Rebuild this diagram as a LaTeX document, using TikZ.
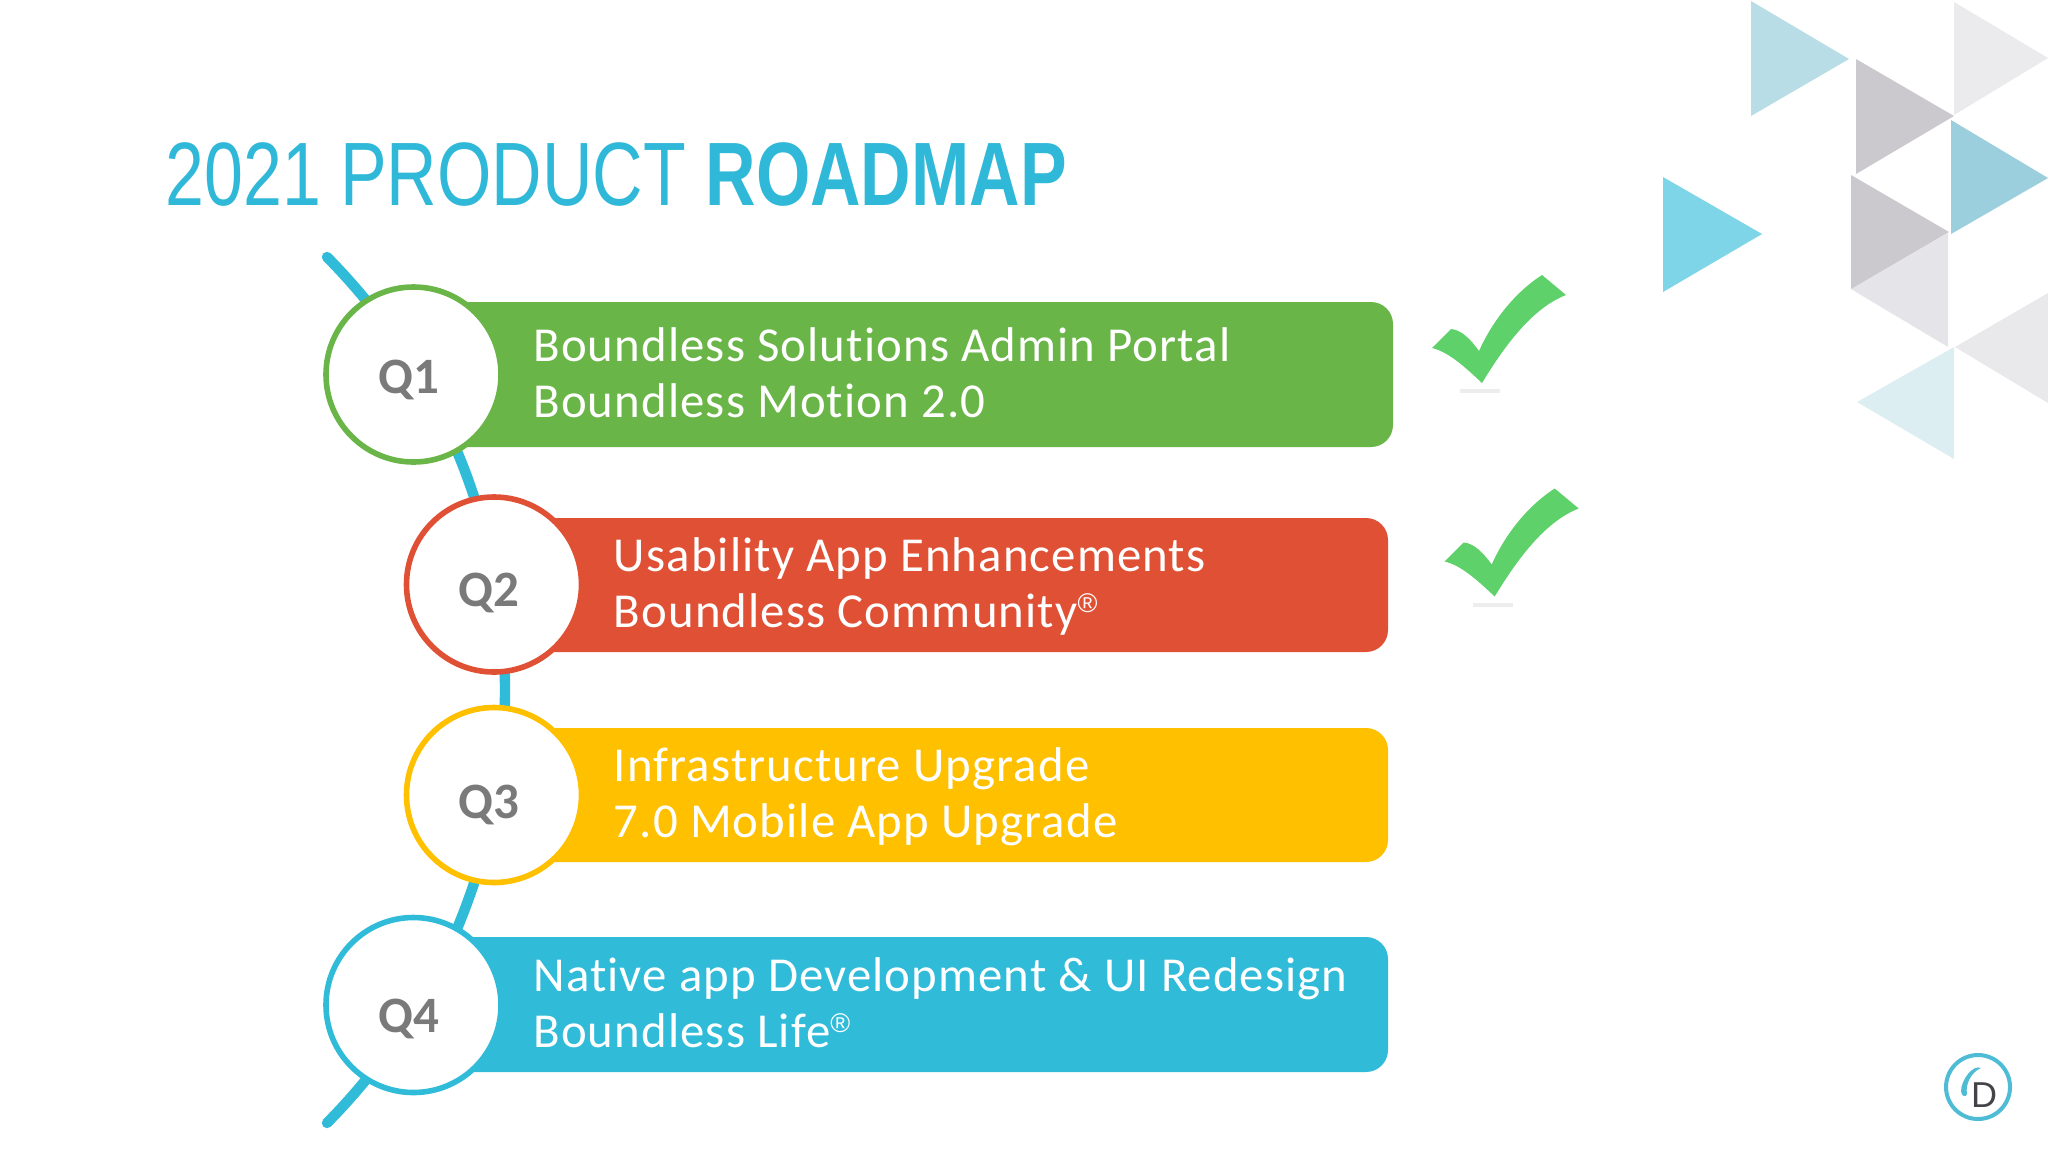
\documentclass[tikz,border=0pt]{standalone}
\usepackage{fontspec}
\setmainfont{Carlito}
\newfontfamily\titlefont[FakeStretch=0.777]{Liberation Sans}
\newfontfamily\bodyfont[LetterSpace=2.3,Ligatures=NoCommon]{Carlito}
\newfontfamily\logofont{Liberation Sans}
\newcommand{\regmark}{\raisebox{7.5pt}{\fontsize{13.5}{13.5}\logofont ®}}
\usetikzlibrary{shapes.geometric}
\definecolor{cgreen}{HTML}{6AB547}
\definecolor{cred}{HTML}{DF5035}
\definecolor{cyellow}{HTML}{FFC000}
\definecolor{cblue}{HTML}{30BBD9}
\definecolor{ctitle}{HTML}{30B8D8}
\definecolor{cqtext}{HTML}{7A7A7A}
\definecolor{ccheck}{HTML}{5FD16A}
\definecolor{clogo}{HTML}{4FBCD6}
\definecolor{clogod}{HTML}{444448}
\definecolor{triA}{HTML}{B9DDE6}
\definecolor{triB}{HTML}{CBC9CD}
\definecolor{triC}{HTML}{EBEBEE}
\definecolor{triD}{HTML}{9BCFDD}
\definecolor{triE}{HTML}{7FD5E8}
\definecolor{triF}{HTML}{E5E4E8}
\definecolor{triG}{HTML}{E9E8EB}
\definecolor{triH}{HTML}{DDEEF3}
\tikzset{
  barbox/.style={rectangle,rounded corners=11pt,minimum width=#1,inner sep=0pt,draw=none},
  ring/.style={ellipse,fill=white,line width=2.8pt,inner sep=0pt,minimum width=87.5pt,minimum height=87.5pt},
  qtext/.style={font=\fontsize{25.5}{25.5}\selectfont\bfseries,text=cqtext,anchor=base,inner sep=0pt},
  bartext/.style={font=\fontsize{24.4}{28}\bodyfont,text=white,align=left,anchor=west,inner sep=0pt},
  timeline/.style={draw=cblue,line width=5.2pt,line cap=round},
  chk/.pic={
    \fill[ccheck] (1542,275) -- (1566,295)
      .. controls (1535,307) and (1508,340) .. (1482,383)
      .. controls (1466,368) and (1449,352) .. (1432,348)
      -- (1451,329)
      .. controls (1462,330) and (1471,340) .. (1479,351)
      .. controls (1492,322) and (1514,293) .. (1542,275) -- cycle;
    \fill[black!7] (1460,389) rectangle (1500,393);
  }
}
\begin{document}
\begin{tikzpicture}[x=0.5pt,y=-0.5pt]
\useasboundingbox (0,0) rectangle (2048,1152);
\fill[white] (0,0) rectangle (2048,1152);
% decorative triangles
\fill[triA] (1751,1) -- (1849,59) -- (1751,116) -- cycle;
\fill[triB] (1856,59) -- (1954,116) -- (1856,174) -- cycle;
\fill[triC] (1954,2) -- (2048,58) -- (1954,115) -- cycle;
\fill[triD] (1951,120) -- (2048,178) -- (1951,234) -- cycle;
\fill[triE] (1663,177) -- (1762,234) -- (1663,292) -- cycle;
\fill[triF] (1851,289) -- (1948,233) -- (1948,347) -- cycle;
\fill[triB] (1851,175) -- (1949,232) -- (1851,289) -- cycle;
\fill[triG] (1955,347) -- (2048,293) -- (2048,403) -- cycle;
\fill[triH] (1954,347) -- (1857,402) -- (1954,459) -- cycle;
% title
\node[anchor=base west,inner sep=0pt,text=ctitle,font=\fontsize{45}{45}\titlefont] (title) at (165,205) {2021 PRODUCT \textbf{ROADMAP}};
% timeline
\coordinate (tstart) at (327,257);
\draw[timeline] (tstart) arc[start angle=-44.7,end angle=44.7,radius=615.6];
% bars
\node[barbox=490.5pt,fill=cgreen,minimum height=72.5pt] (b1) at (902.5,374.5) {};
\node[barbox=448pt,fill=cred,minimum height=67pt] (b2) at (940,585) {};
\node[barbox=448pt,fill=cyellow,minimum height=67pt] (b3) at (940,795) {};
\node[barbox=488pt,fill=cblue,minimum height=67.5pt] (b4) at (900,1004.5) {};
% circles
\node[ring,draw=cgreen] (c1) at (413.5,374.5) {};
\node[ring,draw=cred] (c2) at (494,584.5) {};
\node[ring,draw=cyellow] (c3) at (494,795) {};
\node[ring,draw=cblue] (c4) at (413.5,1005) {};
% quarter labels
\node[qtext] (q1) at (409,393) {Q1};
\node[qtext] (q2) at (489,606) {Q2};
\node[qtext] (q3) at (489,818) {Q3};
\node[qtext] (q4) at (409,1032) {Q4};
% bar text
\node[bartext] (t1) at (533,372.5) {Boundless Solutions Admin Portal\\Boundless Motion 2.0};
\node[bartext] (t2) at (613.5,586) {Usability App Enhancements\\Boundless Community\regmark};
\node[bartext] (t3) at (613.5,796.5) {Infrastructure Upgrade\\7.0 Mobile App Upgrade};
\node[bartext] (t4) at (533,1002.5) {Native app Development \& UI Redesign\\Boundless Life\regmark};
% check marks
\pic (chk1) at (0,0) {chk};
\pic (chk2) at (12.7,213.5) {chk};
% logo
\node[circle,draw=clogo,line width=2pt,minimum size=32pt,inner sep=0pt,fill=white] (logo) at (1978,1087) {};
\fill[clogo] (1981,1068) .. controls (1973,1064) and (1961,1080) .. (1961,1091) .. controls (1961,1096) and (1966,1098) .. (1967,1094) .. controls (1965,1085) and (1971,1072) .. (1981,1068) -- cycle;
\node[inner sep=0pt,text=clogod,font=\fontsize{18}{18}\logofont,anchor=base] (logod) at (1984,1107) {D};
\end{tikzpicture}
\end{document}
